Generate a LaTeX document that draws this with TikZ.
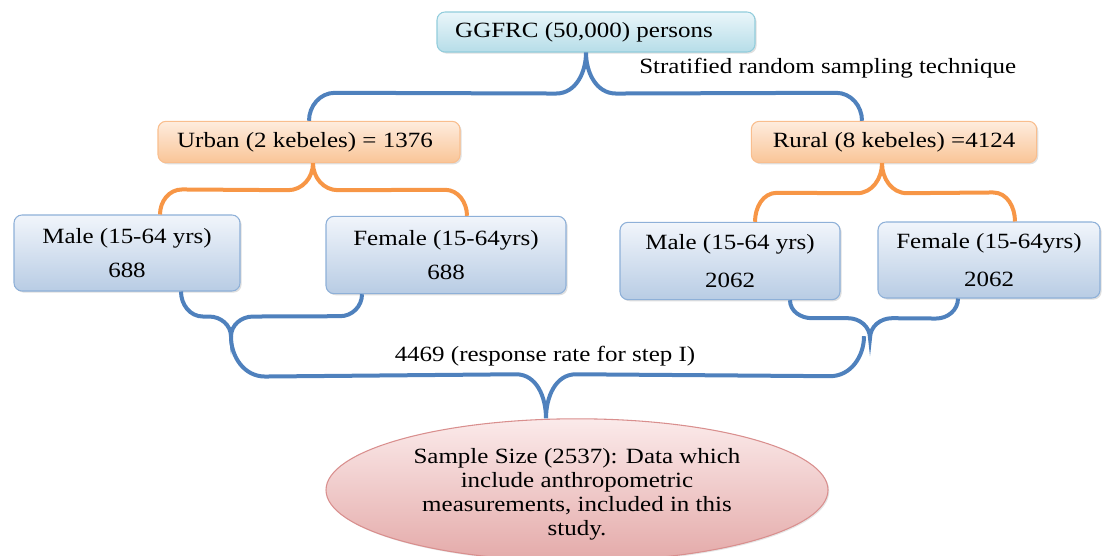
\documentclass[tikz,border=0pt]{standalone}
\usepackage{fontspec}
\setmainfont{Liberation Serif}[FakeStretch=1.15]
\usetikzlibrary{calc,shapes.geometric,shadows}
\definecolor{bracebl}{HTML}{4F81BD}
\definecolor{braceor}{HTML}{F79646}
\definecolor{cyT}{HTML}{EAF6FA}\definecolor{cyB}{HTML}{B6DDE8}\definecolor{cyD}{HTML}{92CDDC}
\definecolor{orT}{HTML}{FEEDDE}\definecolor{orB}{HTML}{F9C497}\definecolor{orD}{HTML}{F9BE8E}
\definecolor{blT}{HTML}{F1F5FB}\definecolor{blB}{HTML}{B8CCE4}\definecolor{blD}{HTML}{8EB0D8}
\definecolor{elT}{HTML}{FBEAEA}\definecolor{elB}{HTML}{E4AAA9}\definecolor{elD}{HTML}{D98F8E}
\tikzset{
  boxbase/.style={rounded corners=6pt, draw, line width=0.8pt, align=center, inner sep=2pt,
    drop shadow={opacity=0.25,shadow xshift=1.2pt,shadow yshift=-1.2pt}},
  cyanbox/.style={boxbase, top color=cyT, bottom color=cyB, draw=cyD},
  orangebox/.style={boxbase, top color=orT, bottom color=orB, draw=orD},
  bluebox/.style={boxbase, top color=blT, bottom color=blB, draw=blD},
  ellbox/.style={ellipse, draw=elD, line width=0.8pt, top color=elT, bottom color=elB, align=center, inner sep=0pt,
    drop shadow={opacity=0.2,shadow xshift=1pt,shadow yshift=-1pt}},
  bluebrace/.style={draw=bracebl, line width=3pt},
  orangebrace/.style={draw=braceor, line width=3pt},
  plain/.style={inner sep=0pt}
}
\begin{document}
\begin{tikzpicture}[x=0.75pt,y=0.75pt,font=\fontsize{16.3}{18}\selectfont]
\useasboundingbox (0,0) rectangle (1103,-556);
% nodes
\node[cyanbox, minimum width=238.5pt, minimum height=30pt] (top) at (596,-32) {GGFRC (50,000) persons\hspace*{18pt}};
\node[plain, anchor=west] (strat) at (639,-68) {Stratified random sampling technique};
\node[orangebox, minimum width=226.5pt, minimum height=31pt] (urban) at (309,-142) {Urban (2 kebeles) = 1376\hspace*{6pt}};
\node[orangebox, minimum width=214pt, minimum height=31pt] (rural) at (894,-142) {Rural (8 kebeles) =4124};
\node[bluebox, minimum width=169.5pt, minimum height=57pt] (um) at (127,-253) {Male (15-64 yrs)\\[7pt]688};
\node[bluebox, minimum width=180pt, minimum height=58pt] (uf) at (446,-255) {Female (15-64yrs)\\[7pt]688};
\node[bluebox, minimum width=165pt, minimum height=58pt] (rm) at (730,-261) {Male (15-64 yrs)\\[11pt]2062};
\node[bluebox, minimum width=166.5pt, minimum height=57pt] (rf) at (989,-260) {Female (15-64yrs)\\[11pt]2062};
\node[ellbox, minimum width=376.5pt, minimum height=105pt] (ell) at (577,-490) {\rule{0pt}{18pt}Sample Size (2537): Data which\\include anthropometric\\measurements, included in this\\study.};
\node[plain] (resp) at (545,-356) {4469 (response rate for step I)};
% top blue brace
\coordinate (tb) at ($(top.south)+(-10,0)$);
\draw[bluebrace] (urban.north) to[out=90,in=180] ($(urban.north)+(26,28)$) -- ($(tb)+(-30,-41)$) to[out=0,in=-90] (tb)
  to[out=-90,in=180] ($(tb)+(30,-41)$) -- ($(rural.north)+(-58,28)$) to[out=0,in=90] ($(rural.north)+(-32,0)$);
% urban orange brace
\coordinate (uo) at ($(urban.south)+(4,0)$);
\draw[orangebrace] ($(um.north)+(33,0)$) to[out=90,in=180] ($(um.north)+(55,25)$) -- ($(uo)+(-25,-27)$) to[out=0,in=-90] (uo)
  to[out=-90,in=180] ($(uo)+(25,-27)$) -- ($(uf.north)+(-1,26)$) to[out=0,in=90] ($(uf.north)+(21,0)$);
% rural orange brace
\coordinate (ro) at ($(rural.south)+(-12,0)$);
\draw[orangebrace] ($(rm.north)+(25,0)$) to[out=90,in=180] ($(rm.north)+(47,29)$) -- ($(ro)+(-25,-30)$) to[out=0,in=-90] (ro)
  to[out=-90,in=180] ($(ro)+(25,-30)$) -- ($(rf.north)+(4,29)$) to[out=0,in=90] ($(rf.north)+(26,0)$);
% urban lower blue brace
\coordinate (ut) at ($(um.south)+(104,-45)$);
\draw[bluebrace] ($(um.south)+(54,0)$) to[out=-90,in=180] ($(um.south)+(76,-25)$) -- ($(ut)+(-22,20)$) to[out=0,in=90] (ut)
  to[out=90,in=180] ($(ut)+(22,20)$) -- ($(uf.south)+(-106,-22)$) to[out=0,in=-90] ($(uf.south)+(-84,0)$);
% rural lower blue brace
\coordinate (rt) at ($(rm.south)+(140,-38)$);
\draw[bluebrace] ($(rm.south)+(60,0)$) to[out=-90,in=180] ($(rm.south)+(82,-18)$) -- ($(rt)+(-22,20)$) to[out=0,in=90] (rt)
  to[out=90,in=180] ($(rt)+(22,20)$) -- ($(rf.south)+(-53,-20)$) to[out=0,in=-90] ($(rf.south)+(-31,0)$);
% big blue brace
\coordinate (bt) at ($(ell.north)+(-31,0)$);
\draw[bluebrace] (ut) to[out=-90,in=180] ($(ut)+(34,-40)$) -- ($(bt)+(-30,44)$) to[out=0,in=90] (bt)
  to[out=90,in=180] ($(bt)+(30,44)$) -- ($(rt)+(-40,-38)$) to[out=0,in=-90] ($(rt)+(-6,2)$);
\end{tikzpicture}
\end{document}
